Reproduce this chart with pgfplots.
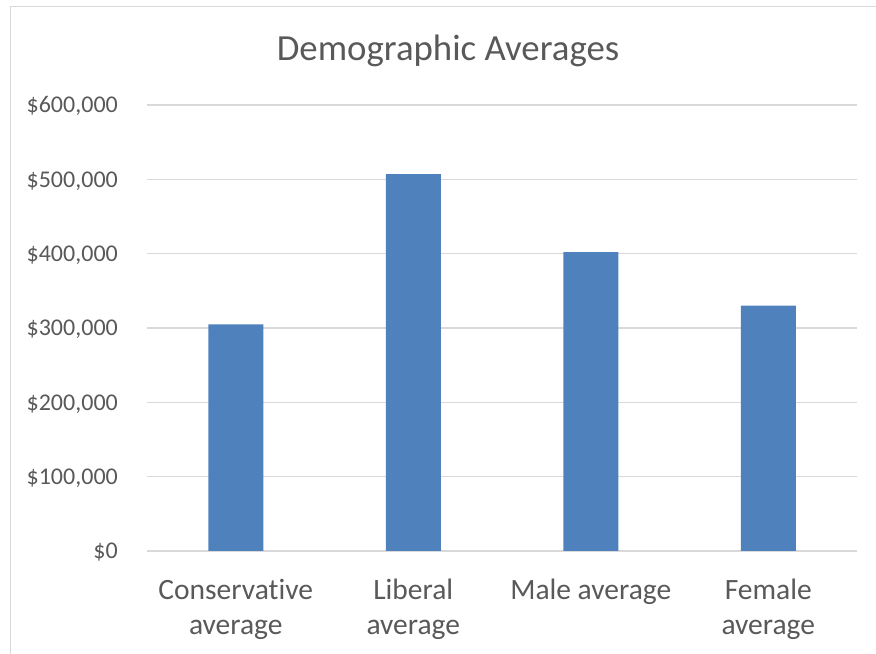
\documentclass[border=0pt]{standalone}
\usepackage{fontspec}
\setmainfont{Carlito}[Ligatures={NoCommon}]
\usepackage{pgfplots}
\pgfplotsset{compat=1.18}
\definecolor{barblue}{HTML}{4F81BD}
\definecolor{txtgray}{HTML}{595959}
\definecolor{gridgray}{HTML}{D9D9D9}
\begin{document}
\begin{tikzpicture}[x=1bp,y=1bp]
\path[use as bounding box] (0,0) rectangle (876,654);
\draw[gridgray, line width=1.5bp] (10.7,-2) -- (10.7,647.3) -- (880,647.3);
\node[txtgray, font=\fontsize{36.8bp}{44bp}\selectfont, anchor=base, inner sep=0pt] at (448,593) {Demographic Averages};
\begin{axis}[
  at={(147bp,103bp)}, anchor=south west,
  scale only axis, width=710bp, height=446bp,
  xmin=-0.5, xmax=3.5, ymin=0, ymax=600000,
  ybar, bar width=55bp,
  axis line style={draw=none},
  tick style={draw=none},
  major tick length=0pt,
  ymajorgrids=true,
  grid style={gridgray, line width=1.4bp},
  ytick={0,100000,200000,300000,400000,500000,600000},
  yticklabels={{\$0},{\$100,000},{\$200,000},{\$300,000},{\$400,000},{\$500,000},{\$600,000}},
  scaled y ticks=false,
  yticklabel style={font=\fontsize{24bp}{29bp}\selectfont, text=txtgray, inner sep=0pt, anchor=base east, xshift=-29bp, yshift=-8bp},
  xtick={0,1,2,3},
  xticklabels={{\strut Conservative\\\strut average},{\strut Liberal\\\strut average},{\strut Male average},{\strut Female\\\strut average}},
  xticklabel style={font=\fontsize{29.5bp}{35bp}\selectfont, text=txtgray, inner sep=0pt, align=center, anchor=north, yshift=-23.5bp},
]
\addplot[fill=barblue, draw=none] coordinates {(0,305000) (1,507000) (2,402000) (3,330000)};
\end{axis}
\end{tikzpicture}
\end{document}
